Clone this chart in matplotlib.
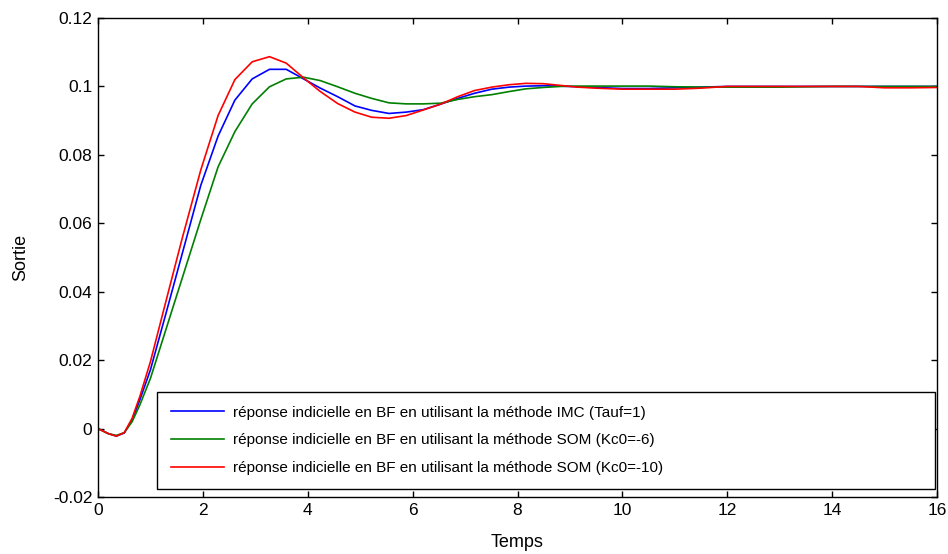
import matplotlib
matplotlib.use('Agg')
import matplotlib.pyplot as plt

plt.rcParams['font.family'] = ['Liberation Sans', 'DejaVu Sans']

# time points
t = [0, 0.2, 0.35, 0.5, 0.65, 0.8, 1.0, 1.3, 1.6, 1.96, 2.29, 2.61, 2.94, 3.27,
     3.59, 3.92, 4.24, 4.57, 4.9, 5.22, 5.55, 5.88, 6.2, 6.53, 6.86, 7.18, 7.51,
     7.84, 8.16, 8.49, 8.82, 9.14, 9.5, 10, 10.5, 11, 11.5, 12, 12.5, 13, 13.5,
     14, 14.5, 15, 15.5, 16]

y_imc = [0, -0.0015, -0.0022, -0.0013, 0.0025, 0.0085, 0.0172, 0.0339, 0.0508,
         0.0711, 0.0855, 0.096, 0.1022, 0.105, 0.105, 0.1022, 0.0995, 0.097,
         0.0943, 0.093, 0.0921, 0.0925, 0.0932, 0.0948, 0.0965, 0.098, 0.0992,
         0.0998, 0.1001, 0.1002, 0.1001, 0.0999, 0.0997, 0.0994, 0.0994, 0.0996,
         0.0998, 0.1, 0.1, 0.1, 0.1, 0.1, 0.1, 0.1, 0.1, 0.1]

y_som6 = [0, -0.0015, -0.002, -0.0012, 0.002, 0.007, 0.0147, 0.0292, 0.0437,
          0.0611, 0.0765, 0.0868, 0.0949, 0.0999, 0.1022, 0.1027, 0.1017, 0.0999,
          0.098, 0.0965, 0.0952, 0.0949, 0.0949, 0.0951, 0.0962, 0.097, 0.0976,
          0.0985, 0.0993, 0.0997, 0.1, 0.1001, 0.1001, 0.1001, 0.1001, 0.0999,
          0.0998, 0.0998, 0.0998, 0.0998, 0.0999, 0.1, 0.1, 0.1, 0.1, 0.1]

y_som10 = [0, -0.0015, -0.0022, -0.0012, 0.003, 0.0095, 0.0196, 0.0375, 0.0553,
           0.0756, 0.0915, 0.102, 0.1072, 0.1087, 0.1068, 0.1025, 0.0985, 0.095,
           0.0925, 0.091, 0.0907, 0.0915, 0.0931, 0.0948, 0.097, 0.0988, 0.0998,
           0.1005, 0.1009, 0.1008, 0.1003, 0.0998, 0.0995, 0.0992, 0.0992, 0.0992,
           0.0995, 0.1, 0.1, 0.1, 0.1, 0.1, 0.1, 0.0996, 0.0996, 0.0997]

labels = ['réponse indicielle en BF en utilisant la méthode IMC (Tauf=1)',
          'réponse indicielle en BF en utilisant la méthode SOM (Kc0=-6)',
          'réponse indicielle en BF en utilisant la méthode SOM (Kc0=-10)']

fig = plt.figure(figsize=(9.48, 5.54), dpi=100)
ax = fig.add_axes([0.1034, 0.1029, 0.885, 0.8646])

ax.plot(t, y_imc, color='#0000ff', lw=1.2, label=labels[0])
ax.plot(t, y_som6, color='#008000', lw=1.2, label=labels[1])
ax.plot(t, y_som10, color='#ff0000', lw=1.2, label=labels[2])

ax.set_xlim(0, 16)
ax.set_ylim(-0.02, 0.12)
ax.set_xticks(range(0, 17, 2))
ax.set_yticks([-0.02, 0, 0.02, 0.04, 0.06, 0.08, 0.1, 0.12])
ax.set_yticklabels(['-0.02', '0', '0.02', '0.04', '0.06', '0.08', '0.1', '0.12'])
ax.tick_params(direction='in', top=True, right=True, length=4, width=1,
               labelsize=12.5, pad=4)
for s in ax.spines.values():
    s.set_linewidth(1)

ax.set_xlabel('Temps', fontsize=13, labelpad=12)
ax.set_ylabel('Sortie', fontsize=13, labelpad=17)

leg = ax.legend(loc='lower left', bbox_to_anchor=(0.0705, 0.0167, 0.927, 0.2),
                mode='expand', fontsize=11, handlelength=3.5, handletextpad=0.55,
                labelspacing=0.9, borderpad=0.9, fancybox=False, framealpha=1,
                edgecolor='black', borderaxespad=0)
leg.get_frame().set_linewidth(1)

fig.savefig('out.png', dpi=100)
